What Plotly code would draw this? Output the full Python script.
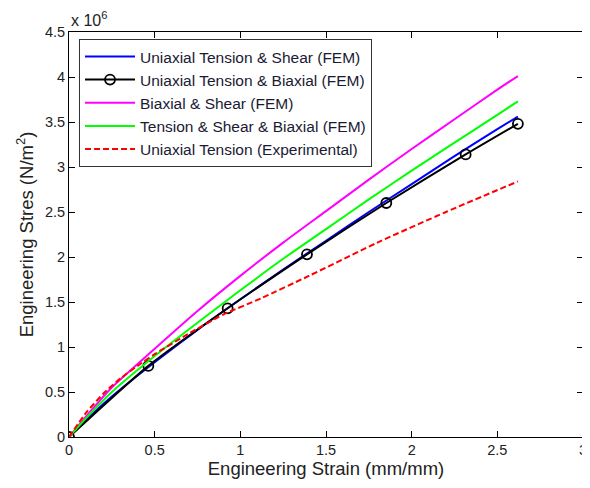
import plotly.graph_objects as go

# strain values (mm/mm)
x_curve = [0, 0.1, 0.25, 0.5, 0.75, 1.0, 1.25, 1.5, 1.75, 2.0, 2.25, 2.5, 2.62]
# stress values (x 10^6 N/m^2)
blue_y = [0, 0.19, 0.45, 0.83, 1.19, 1.53, 1.86, 2.18, 2.50, 2.81, 3.12, 3.42, 3.56]
green_y = [0, 0.21, 0.50, 0.90, 1.27, 1.63, 1.98, 2.31, 2.64, 2.96, 3.27, 3.58, 3.73]
magenta_y = [0, 0.23, 0.55, 0.98, 1.40, 1.79, 2.16, 2.51, 2.86, 3.20, 3.53, 3.86, 4.01]

black_x = [0, 0.463, 0.926, 1.389, 1.852, 2.315, 2.62]
black_y = [0, 0.79, 1.43, 2.03, 2.60, 3.14, 3.48]

red_x = [0, 0.1, 0.2, 0.3, 0.4, 0.5, 0.7, 0.9, 1.12, 1.4, 1.8, 2.2, 2.62]
red_y = [0, 0.27, 0.48, 0.65, 0.79, 0.92, 1.15, 1.36, 1.54, 1.79, 2.16, 2.50, 2.84]

names = ["Uniaxial Tension & Shear (FEM)", "Uniaxial Tension & Biaxial (FEM)",
         "Biaxial & Shear (FEM)", "Tension & Shear & Biaxial (FEM)",
         "Uniaxial Tension (Experimental)"]

x_ticks = [0, 0.5, 1, 1.5, 2, 2.5, 3]
x_labels = ["0", "0.5", "1", "1.5", "2", "2.5", "3"]
y_ticks = [0, 0.5, 1, 1.5, 2, 2.5, 3, 3.5, 4, 4.5]
y_labels = ["0", "0.5", "1", "1.5", "2", "2.5", "3", "3.5", "4", "4.5"]

fig = go.Figure()
fig.add_trace(go.Scatter(x=x_curve, y=blue_y, mode="lines", name=names[0],
                         line=dict(color="#0000ff", width=2, shape="spline", smoothing=0.6)))
fig.add_trace(go.Scatter(x=black_x, y=black_y, mode="lines+markers", name=names[1],
                         line=dict(color="#000000", width=2, shape="spline", smoothing=0.6),
                         marker=dict(symbol="circle-open", size=10, color="#000000",
                                     line=dict(width=1.8))))
fig.add_trace(go.Scatter(x=x_curve, y=magenta_y, mode="lines", name=names[2],
                         line=dict(color="#ff00ff", width=2, shape="spline", smoothing=0.6)))
fig.add_trace(go.Scatter(x=x_curve, y=green_y, mode="lines", name=names[3],
                         line=dict(color="#00ff00", width=2, shape="spline", smoothing=0.6)))
fig.add_trace(go.Scatter(x=red_x, y=red_y, mode="lines", name=names[4],
                         line=dict(color="#ff0000", width=2, dash="6px,3px",
                                   shape="spline", smoothing=0.6)))

axis_common = dict(showgrid=False, zeroline=False, showline=True, linecolor="black",
                   linewidth=1, mirror="ticks", ticks="inside", ticklen=6,
                   tickcolor="black", tickfont=dict(size=14.5, color="#222222"),
                   automargin=False)

# page body has an 8px default margin, so the figure is sized to fit the 590x488 window
fig.update_layout(
    width=582, height=480,
    margin=dict(l=61, r=7, t=24, b=51),
    paper_bgcolor="white", plot_bgcolor="white",
    font=dict(family="Liberation Sans, Arial, sans-serif", color="#222222"),
    xaxis=dict(range=[0, 3], tickvals=x_ticks, ticktext=x_labels,
               title=dict(text="Engineering Strain (mm/mm)", font=dict(size=18.5), standoff=2),
               **axis_common),
    yaxis=dict(range=[0, 4.5], tickvals=y_ticks, ticktext=y_labels,
               title=dict(text="Engineering Stres (N/m<sup>2</sup>)", font=dict(size=18.5), standoff=6),
               **axis_common),
    legend=dict(x=0.0195, y=0.983, xanchor="left", yanchor="top",
                bgcolor="white", bordercolor="#333333", borderwidth=1,
                font=dict(size=15.5, color="#1a1a33"), tracegroupgap=0,
                itemwidth=50),
    showlegend=True,
)
fig.add_annotation(text="x 10<sup>6</sup>", xref="paper", yref="paper", x=0.0, y=1.0,
                   xanchor="left", yanchor="bottom", showarrow=False, yshift=1,
                   font=dict(size=16, color="#222222"))

fig.write_html("out.html")
